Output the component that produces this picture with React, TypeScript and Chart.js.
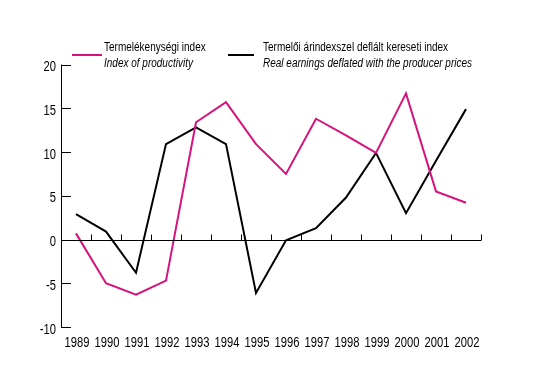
import React, { useEffect, useRef } from "react";
import { Chart, registerables } from "chart.js";

Chart.register(...registerables);

const years = ["1989", "1990", "1991", "1992", "1993", "1994", "1995", "1996", "1997", "1998", "1999", "2000", "2001", "2002"];
const productivity = [0.7, -5.0, -6.3, -4.7, 13.4, 15.7, 10.9, 7.5, 13.8, 11.9, 9.9, 16.7, 5.5, 4.2];
const realEarnings = [2.9, 0.9, -3.8, 10.9, 12.8, 10.9, -6.1, -0.1, 1.3, 4.8, 9.9, 3.0, 9.0, 14.9];
const yTicks = [-10, -5, 0, 5, 10, 15, 20];

const PINK = "#d8127c";
const FONT = "'Liberation Sans', Arial, sans-serif";
const NARROW = 0.8;

const axisPlugin = {
  id: "customAxis",
  afterDatasetsDraw(chart: any) {
    const { ctx, chartArea, scales } = chart;
    const ys = scales.y;
    const xs = scales.x;
    const zero = Math.round(ys.getPixelForValue(0)) + 0.5;
    ctx.save();
    ctx.strokeStyle = "#000";
    ctx.lineWidth = 1;
    ctx.beginPath();
    ctx.moveTo(chartArea.left, zero);
    ctx.lineTo(chartArea.right, zero);
    yTicks.forEach((v) => {
      const py = Math.round(ys.getPixelForValue(v)) + 0.5;
      ctx.moveTo(chartArea.left, py);
      ctx.lineTo(chartArea.left + 10, py);
    });
    const n = years.length;
    for (let i = 1; i <= n; i++) {
      const px = Math.round(xs.getPixelForValue(i - 0.5)) + 0.5;
      ctx.moveTo(px, zero - 6);
      ctx.lineTo(px, zero);
    }
    const lx = Math.round(chartArea.left) + 0.5;
    ctx.moveTo(lx, ys.getPixelForValue(20));
    ctx.lineTo(lx, ys.getPixelForValue(-10));
    ctx.stroke();

    ctx.fillStyle = "#000";
    ctx.font = "14px " + FONT;
    ctx.textBaseline = "alphabetic";
    ctx.textAlign = "center";
    years.forEach((lab, i) => {
      const px = xs.getPixelForValue(i);
      ctx.save();
      ctx.translate(px + 1, chartArea.bottom + 20);
      ctx.scale(NARROW, 1);
      ctx.fillText(lab, 0, 0);
      ctx.restore();
    });
    ctx.textAlign = "right";
    yTicks.forEach((v) => {
      const py = ys.getPixelForValue(v);
      ctx.save();
      ctx.translate(chartArea.left - 5, py + 6.5);
      ctx.scale(NARROW, 1);
      ctx.fillText(String(v), 0, 0);
      ctx.restore();
    });
    ctx.restore();
  },
};

export default function App() {
  const ref = useRef<HTMLCanvasElement | null>(null);
  useEffect(() => {
    if (!ref.current) return;
    const chart = new Chart(ref.current, {
      type: "line",
      data: {
        labels: years,
        datasets: [
          {
            label: "Termelékenységi index",
            data: productivity,
            borderColor: PINK,
            borderWidth: 2,
            pointRadius: 0,
            tension: 0,
          },
          {
            label: "Termelői árindexszel deflált kereseti index",
            data: realEarnings,
            borderColor: "#000",
            borderWidth: 2,
            pointRadius: 0,
            tension: 0,
          },
        ],
      },
      options: {
        animation: false,
        responsive: false,
        layout: { padding: { left: 0, right: 71, top: 64.5, bottom: 0 } },
        plugins: { legend: { display: false }, tooltip: { enabled: false } },
        scales: {
          x: {
            offset: true,
            grid: { display: false },
            border: { display: false },
            ticks: { display: false },
            afterFit: (s: any) => { s.height = 52; },
          },
          y: {
            min: -10,
            max: 20,
            grid: { display: false },
            border: { display: false },
            ticks: { display: false, stepSize: 5 },
            afterFit: (s: any) => { s.width = 61; },
          },
        },
      },
      plugins: [axisPlugin],
    });
    return () => chart.destroy();
  }, []);

  const textStyle: React.CSSProperties = {
    fontFamily: FONT,
    fontSize: 12.5,
    color: "#000",
    lineHeight: "16px",
    whiteSpace: "nowrap",
    transform: `scaleX(${NARROW})`,
    transformOrigin: "0 0",
  };
  return (
    <div style={{ position: "fixed", left: 0, top: 0, width: 552, height: 379, background: "#fff" }}>
      <canvas ref={ref} width={552} height={379} style={{ position: "absolute", left: 0, top: 0 }} />
      <div style={{ position: "absolute", left: 72, top: 54, width: 30, height: 2, background: PINK }} />
      <div style={{ position: "absolute", left: 104, top: 38.5, ...textStyle }}>
        <div>Termelékenységi index</div>
        <div style={{ fontStyle: "italic" }}>Index of productivity</div>
      </div>
      <div style={{ position: "absolute", left: 228, top: 54, width: 26, height: 2, background: "#000" }} />
      <div style={{ position: "absolute", left: 263, top: 38.5, ...textStyle }}>
        <div>Termelői árindexszel deflált kereseti index</div>
        <div style={{ fontStyle: "italic" }}>Real earnings deflated with the producer prices</div>
      </div>
    </div>
  );
}
